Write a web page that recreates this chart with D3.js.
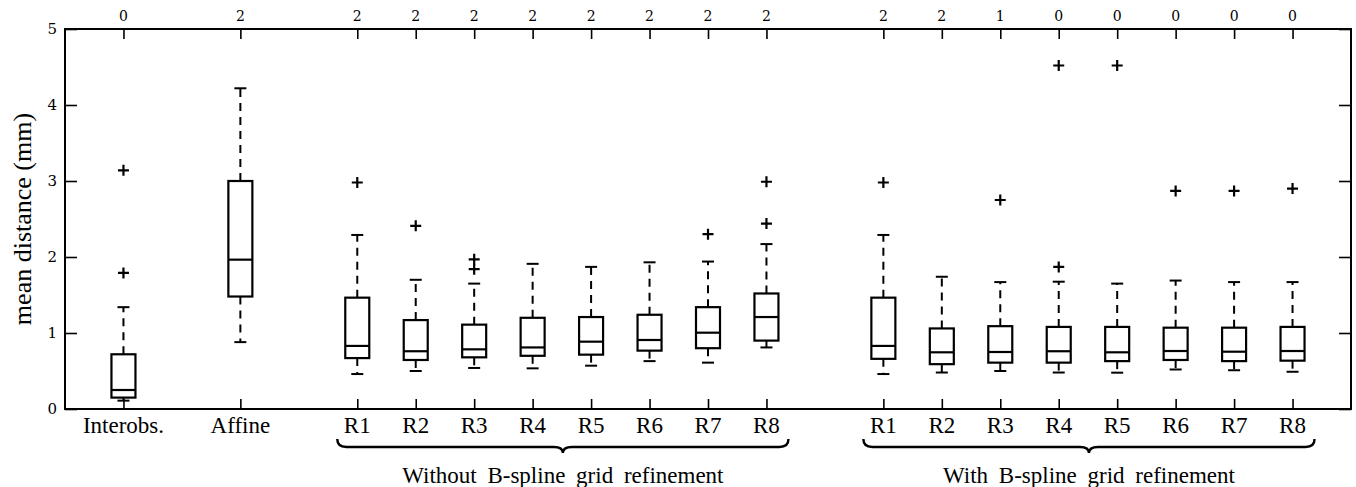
<!DOCTYPE html>
<html>
<head>
<meta charset="utf-8">
<script src="https://cdn.jsdelivr.net/npm/d3@7"></script>
<style>
  body { margin: 0; background: #fff; }
  svg { display: block; }
</style>
</head>
<body>
<svg width="1356" height="487"></svg>
<script>
// box plot values (mm)
const labels = ["Interobs.", "Affine",
  "R1", "R2", "R3", "R4", "R5", "R6", "R7", "R8",
  "R1", "R2", "R3", "R4", "R5", "R6", "R7", "R8"];
const keys = ["IO", "AF", "A1", "A2", "A3", "A4", "A5", "A6", "A7", "A8",
  "B1", "B2", "B3", "B4", "B5", "B6", "B7", "B8"];
const whiskerLow  = [0.11, 0.88, 0.46, 0.50, 0.54, 0.535, 0.57, 0.63, 0.61, 0.81, 0.46, 0.48, 0.50, 0.48, 0.478, 0.52, 0.51, 0.49];
const q1Values    = [0.15, 1.48, 0.67, 0.645, 0.68, 0.70, 0.715, 0.768, 0.80, 0.90, 0.66, 0.59, 0.61, 0.61, 0.63, 0.645, 0.63, 0.636];
const medians     = [0.25, 1.965, 0.83, 0.76, 0.785, 0.81, 0.886, 0.908, 1.004, 1.21, 0.83, 0.746, 0.75, 0.76, 0.746, 0.763, 0.754, 0.763];
const q3Values    = [0.72, 3.0, 1.465, 1.17, 1.11, 1.20, 1.21, 1.24, 1.34, 1.52, 1.465, 1.06, 1.09, 1.08, 1.08, 1.07, 1.07, 1.08];
const whiskerHigh = [1.34, 4.22, 2.29, 1.70, 1.65, 1.91, 1.87, 1.93, 1.94, 2.17, 2.29, 1.74, 1.67, 1.675, 1.65, 1.69, 1.67, 1.67];
const outliers = [[1.79, 3.14], [], [2.98], [2.41], [1.84, 1.97], [], [], [], [2.30], [2.44, 2.99],
  [2.98], [], [2.75], [1.87, 4.52], [4.52], [2.87], [2.87], [2.90]];
const topCounts = [0, 2, 2, 2, 2, 2, 2, 2, 2, 2, 2, 2, 1, 0, 0, 0, 0, 0];
const yTicks = [0, 1, 2, 3, 4, 5];
const groupNames = ["Without B-spline grid refinement", "With B-spline grid refinement"];
const groupKeys = [["A1", "A8"], ["B1", "B8"]];

const svg = d3.select("svg");
const plotLeft = 65, plotRight = 1351, plotTop = 29, plotBottom = 409;

// slot layout with empty gaps between groups
const slots = ["g0", "IO", "g1", "AF", "g2", "A1", "A2", "A3", "A4", "A5", "A6", "A7", "A8",
  "g3", "B1", "B2", "B3", "B4", "B5", "B6", "B7", "B8", "g4"];
const x = d3.scalePoint().domain(slots).range([plotLeft, plotRight]);
const y = d3.scaleLinear().domain([0, 5]).range([plotBottom, plotTop]);

const serif = "'Liberation Serif', 'Times New Roman', serif";
const tickFont = "'DejaVu Serif', serif";

const data = keys.map((k, i) => ({
  key: k, label: labels[i], lo: whiskerLow[i], q1: q1Values[i], med: medians[i],
  q3: q3Values[i], hi: whiskerHigh[i], out: outliers[i], count: topCounts[i]
}));

// frame
svg.append("rect")
  .attr("x", plotLeft).attr("y", plotTop)
  .attr("width", plotRight - plotLeft).attr("height", plotBottom - plotTop)
  .attr("fill", "none").attr("stroke", "#000").attr("stroke-width", 2);

// left axis (ticks inward)
const yAxis = svg.append("g")
  .attr("transform", `translate(${plotLeft},0)`)
  .call(d3.axisRight(y).tickValues(yTicks).tickSize(12).tickFormat(""));
yAxis.select(".domain").remove();
yAxis.selectAll("line").attr("stroke-width", 1.6);
svg.append("g").selectAll("text")
  .data(yTicks).enter().append("text")
  .attr("x", plotLeft - 8).attr("y", d => y(d))
  .attr("dy", "0.35em")
  .attr("text-anchor", "end")
  .style("font-family", tickFont).style("font-size", "15px")
  .text(d => d);

// right axis (ticks inward, no labels)
const yAxisR = svg.append("g")
  .attr("transform", `translate(${plotRight},0)`)
  .call(d3.axisLeft(y).tickValues(yTicks).tickSize(12).tickFormat(""));
yAxisR.select(".domain").remove();
yAxisR.selectAll("line").attr("stroke-width", 1.6);

// bottom axis
const xAxisB = svg.append("g")
  .attr("transform", `translate(0,${plotBottom})`)
  .call(d3.axisTop(x).tickValues(keys).tickSize(10).tickFormat(""));
xAxisB.select(".domain").remove();
xAxisB.selectAll("line").attr("stroke-width", 1.6);

// top axis
const xAxisT = svg.append("g")
  .attr("transform", `translate(0,${plotTop})`)
  .call(d3.axisBottom(x).tickValues(keys).tickSize(10).tickFormat(""));
xAxisT.select(".domain").remove();
xAxisT.selectAll("line").attr("stroke-width", 1.6);

// counts above the plot
svg.append("g").selectAll("text")
  .data(data).enter().append("text")
  .attr("x", d => x(d.key)).attr("y", plotTop - 8)
  .attr("text-anchor", "middle")
  .style("font-family", tickFont).style("font-size", "14px")
  .text(d => d.count);

// category labels
svg.append("g").selectAll("text")
  .data(data).enter().append("text")
  .attr("x", d => x(d.key)).attr("y", 433)
  .attr("text-anchor", "middle")
  .style("font-family", serif).style("font-size", "23px")
  .text(d => d.label);

// y title
svg.append("text")
  .attr("transform", `translate(31,${(plotTop + plotBottom) / 2}) rotate(-90)`)
  .attr("text-anchor", "middle")
  .style("font-family", serif).style("font-size", "26px")
  .text("mean distance (mm)");

// boxes
const boxW = 24, capW = 12;
const box = svg.append("g").selectAll("g")
  .data(data).enter().append("g")
  .attr("transform", d => `translate(${x(d.key)},0)`);

box.append("line")
  .attr("y1", d => y(d.q3)).attr("y2", d => y(d.hi))
  .attr("stroke", "#000").attr("stroke-width", 2)
  .attr("stroke-dasharray", "8,6");
box.append("line")
  .attr("y1", d => y(d.q1)).attr("y2", d => y(d.lo))
  .attr("stroke", "#000").attr("stroke-width", 2)
  .attr("stroke-dasharray", "8,6");
box.append("line")
  .attr("x1", -capW / 2).attr("x2", capW / 2)
  .attr("y1", d => y(d.hi)).attr("y2", d => y(d.hi))
  .attr("stroke", "#000").attr("stroke-width", 2);
box.append("line")
  .attr("x1", -capW / 2).attr("x2", capW / 2)
  .attr("y1", d => y(d.lo)).attr("y2", d => y(d.lo))
  .attr("stroke", "#000").attr("stroke-width", 2);
box.append("rect")
  .attr("x", -boxW / 2).attr("width", boxW)
  .attr("y", d => y(d.q3)).attr("height", d => y(d.q1) - y(d.q3))
  .attr("fill", "#fff").attr("stroke", "#000").attr("stroke-width", 2.2);
box.append("line")
  .attr("x1", -boxW / 2).attr("x2", boxW / 2)
  .attr("y1", d => y(d.med)).attr("y2", d => y(d.med))
  .attr("stroke", "#000").attr("stroke-width", 2.2);

// outliers as "+"
box.selectAll("path.out")
  .data(d => d.out).enter().append("path")
  .attr("class", "out")
  .attr("d", "M-5.5,0H5.5M0,-5.5V5.5")
  .attr("transform", v => `translate(0,${y(v)})`)
  .attr("stroke", "#000").attr("stroke-width", 2.2).attr("fill", "none");

// curly braces under the two groups
groupKeys.forEach(([a, b], i) => {
  const x0 = x(a) - 20, x1 = x(b) + 22, mid = (x0 + x1) / 2;
  const yEnd = 439, yLine = 447, yTip = 453, r = 9;
  const p = d3.path();
  p.moveTo(x0, yEnd);
  p.quadraticCurveTo(x0, yLine, x0 + r, yLine);
  p.lineTo(mid - r, yLine);
  p.quadraticCurveTo(mid, yLine, mid, yTip);
  p.quadraticCurveTo(mid, yLine, mid + r, yLine);
  p.lineTo(x1 - r, yLine);
  p.quadraticCurveTo(x1, yLine, x1, yEnd);
  svg.append("path")
    .attr("d", p.toString())
    .attr("fill", "none").attr("stroke", "#000").attr("stroke-width", 2.4);
  svg.append("text")
    .attr("x", mid).attr("y", 483)
    .attr("text-anchor", "middle")
    .style("font-family", serif).style("font-size", "23px")
    .style("word-spacing", "5px")
    .text(groupNames[i]);
});
</script>
</body>
</html>
